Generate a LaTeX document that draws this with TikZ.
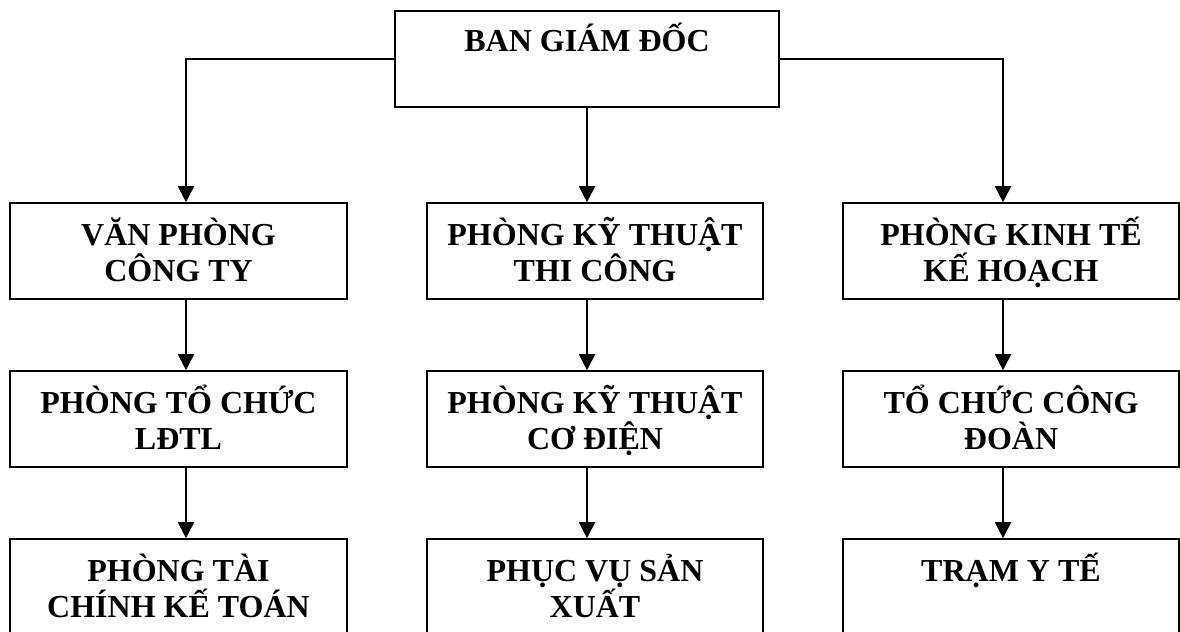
\documentclass[tikz,border=0pt]{standalone}
\usepackage{fontspec}
\setmainfont{Liberation Serif}
\usetikzlibrary{arrows.meta}
\begin{document}
\begin{tikzpicture}[x=0.75pt,y=-0.75pt,
  unit/.style={draw, line width=1.2pt, inner sep=0pt, minimum height=72pt},
  % a caption's base anchor sits on the baseline of its last line
  caption/.style={font=\bfseries\fontsize{24}{27}\selectfont, align=center, anchor=base, inner sep=0pt},
  link/.style={line width=1.4pt, -{Triangle[length=12pt,width=12pt]}}]
\useasboundingbox (0,0) rectangle (1180,631);
\clip (0,0) rectangle (1180,631);

% board of directors
\node[unit, minimum width=288pt] (bgd) at (587,59) {};
\node[caption] (bgdt) at (587,52) {BAN GIÁM ĐỐC};

% left column
\node[unit, minimum width=252.75pt] (vp) at (178.5,251) {};
\node[caption] (vpt) at (178.5,281) {VĂN PHÒNG\\CÔNG TY};
\node[unit, minimum width=252.75pt] (tc) at (178.5,419) {};
\node[caption] (tct) at (178.5,449) {PHÒNG TỔ CHỨC\\LĐTL};
\node[unit, minimum width=252.75pt] (tckt) at (178.5,587) {};
\node[caption] (tcktt) at (178.5,617) {PHÒNG TÀI\\CHÍNH KẾ TOÁN};

% middle column
\node[unit, minimum width=252pt] (kttc) at (595,251) {};
\node[caption] (kttct) at (595,281) {PHÒNG KỸ THUẬT\\THI CÔNG};
\node[unit, minimum width=252pt] (ktcd) at (595,419) {};
\node[caption] (ktcdt) at (595,449) {PHÒNG KỸ THUẬT\\CƠ ĐIỆN};
\node[unit, minimum width=252pt] (pvsx) at (595,587) {};
\node[caption] (pvsxt) at (595,617) {PHỤC VỤ SẢN\\XUẤT};

% right column
\node[unit, minimum width=252pt] (ktkh) at (1011,251) {};
\node[caption] (ktkht) at (1011,281) {PHÒNG KINH TẾ\\KẾ HOẠCH};
\node[unit, minimum width=252pt] (tccd) at (1011,419) {};
\node[caption] (tccdt) at (1011,449) {TỔ CHỨC CÔNG\\ĐOÀN};
\node[unit, minimum width=252pt] (tyt) at (1011,587) {};
\node[caption] (tytt) at (1011,581) {TRẠM Y TẾ};

% vertical lines carrying the arrows of the outer columns
\coordinate (colL) at (186,0);
\coordinate (colR) at (1003,0);

\draw[link] (bgd.west) -| (colL |- vp.north);
\draw[link] (bgd.south) -- (bgd.south |- kttc.north);
\draw[link] (bgd.east) -| (colR |- ktkh.north);

\draw[link] (colL |- vp.south) -- (colL |- tc.north);
\draw[link] (colL |- tc.south) -- (colL |- tckt.north);
\draw[link] (bgd.south |- kttc.south) -- (bgd.south |- ktcd.north);
\draw[link] (bgd.south |- ktcd.south) -- (bgd.south |- pvsx.north);
\draw[link] (colR |- ktkh.south) -- (colR |- tccd.north);
\draw[link] (colR |- tccd.south) -- (colR |- tyt.north);
\end{tikzpicture}
\end{document}
